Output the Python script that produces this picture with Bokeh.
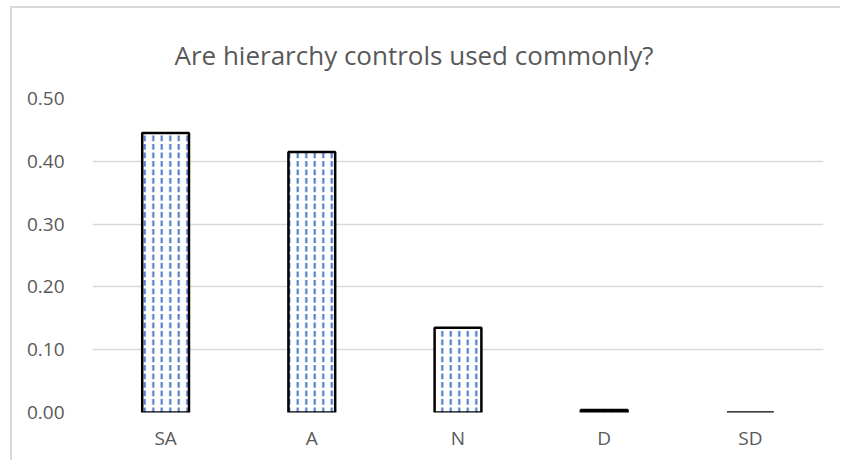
from bokeh.plotting import figure
from bokeh.models import Range1d, FixedTicker, NumeralTickFormatter
from bokeh.embed import file_html
from bokeh.resources import INLINE

categories = ["SA", "A", "N", "D", "SD"]
values = [0.445, 0.415, 0.135, 0.004, 0.0]
y_ticks = [0.0, 0.1, 0.2, 0.3, 0.4, 0.5]
title_text = "Are hierarchy controls used commonly?"

FONT = "Open Sans"
TXT = "#595959"
GRID = "#D9D9D9"

p = figure(x_range=categories, y_range=Range1d(0, 0.5), width=830, height=454,
           output_backend="svg", toolbar_location=None,
           min_border_left=80, min_border_right=19, min_border_top=90, min_border_bottom=50)
p.styles = {"border-left": "2px solid #D9D9D9", "border-top": "2px solid #D9D9D9",
            "margin-left": "10px", "margin-top": "6px"}
p.title.text = title_text
p.title.align = "left"
p.title.text_font = FONT
p.title.text_font_size = "26px"
p.title.text_font_style = "normal"
p.title.text_color = TXT
p.title.standoff = 52
p.title.offset = 82
p.outline_line_color = None

p.vbar(x=categories, top=values, width=0.32, fill_color="white",
       line_color="black", line_width=2.5,
       hatch_pattern="vertical_dash", hatch_color="#4472C4", hatch_scale=8.5, hatch_weight=2)

p.yaxis.ticker = FixedTicker(ticks=y_ticks)
p.yaxis.formatter = NumeralTickFormatter(format="0.00")
for ax in (p.xaxis[0], p.yaxis[0]):
    ax.axis_line_color = None
    ax.major_tick_line_color = None
    ax.minor_tick_line_color = None
    ax.major_label_text_font = FONT
    ax.major_label_text_font_size = "19px"
    ax.major_label_text_color = TXT
p.yaxis.major_label_standoff = 22
p.xaxis.major_label_standoff = 6
p.xgrid.grid_line_color = None
p.ygrid.grid_line_color = GRID
p.ygrid.ticker = FixedTicker(ticks=y_ticks)
p.ygrid.grid_line_width = 1.5

open("out.html", "w").write(file_html(p, INLINE))
